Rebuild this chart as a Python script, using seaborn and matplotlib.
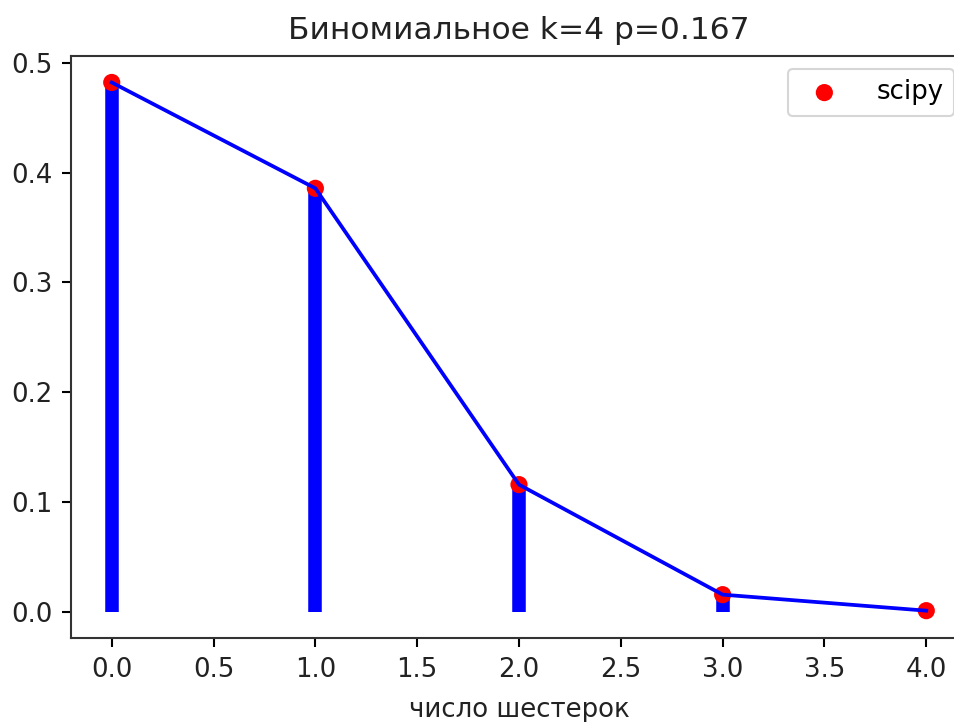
import matplotlib
matplotlib.use("Agg")
import matplotlib.pyplot as plt
import seaborn as sns
import pandas as pd

k_values = [0, 1, 2, 3, 4]
pmf_values = [0.4823, 0.3858, 0.1157, 0.0154, 0.0008]
title = "Биномиальное k=4 p=0.167"
xlabel = "число шестерок"

df = pd.DataFrame({"k": k_values, "p": pmf_values})

fig = plt.figure(figsize=(955/150, 722/150), dpi=150)
ax = fig.add_axes([71/955, 1 - 638/722, (967 - 71)/955, (638 - 56)/722])

sns.scatterplot(data=df, x="k", y="p", ax=ax, color="red", s=68,
                edgecolor="none", label="scipy", zorder=2)
sns.lineplot(data=df, x="k", y="p", ax=ax, color="blue", linewidth=1.8,
             zorder=3, legend=False)
ax.vlines(df["k"], 0, df["p"], colors="blue", linewidth=6.5, zorder=1)

ax.set_title(title, fontsize=15, color="#222222", pad=8)
ax.set_xlabel(xlabel, fontsize=12.5, color="#222222", labelpad=7)
ax.set_ylabel("")
leg = ax.legend(loc="upper right", fontsize=12.5, handletextpad=1.0)
ax.set_xticks([0, 0.5, 1, 1.5, 2, 2.5, 3, 3.5, 4])
ax.set_yticks([0, 0.1, 0.2, 0.3, 0.4, 0.5])
ax.margins(x=0.05, y=0.05)
ax.tick_params(labelsize=12.5, length=4.5, width=1, pad=4.5, labelcolor="#222222")
for s in ax.spines.values():
    s.set_linewidth(1.0)
    s.set_color("#333333")
ax.spines["right"].set_visible(False)

fig.savefig("out.png", dpi=150)
